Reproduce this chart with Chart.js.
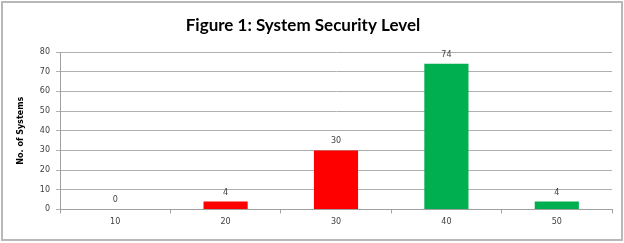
<!DOCTYPE html>
<html>
<head>
<meta charset="utf-8">
<script src="https://cdn.jsdelivr.net/npm/chart.js@4"></script>
<style>
html,body{margin:0;padding:0;background:#fff;}
#wrap{position:absolute;left:0;top:0;width:624px;height:243px;}
</style>
</head>
<body>
<div id="wrap"><canvas id="c" width="624" height="243"></canvas></div>
<script>
const categories = ["10", "20", "30", "40", "50"];
const systems = [0, 4, 30, 74, 4];
const barColors = ["#FF0000", "#FF0000", "#FF0000", "#00B050", "#00B050"];
const yTicks = [0, 10, 20, 30, 40, 50, 60, 70, 80];
const chartTitle = 'Figure 1: System Security Level';

const frame = {
  id: 'frame',
  beforeDraw(chart) {
    const ctx = chart.ctx;
    ctx.save();
    ctx.fillStyle = '#fff';
    ctx.fillRect(0, 0, chart.width, chart.height);
    ctx.strokeStyle = '#b8b8b8';
    ctx.lineWidth = 2;
    ctx.strokeRect(2, 2, chart.width - 4, chart.height - 5);
    ctx.font = 'bold 17px Lato, sans-serif';
    ctx.fillStyle = '#000';
    ctx.textAlign = 'center';
    ctx.textBaseline = 'alphabetic';
    ctx.fillText(chartTitle, 303, 31);
    ctx.restore();
  }
};

const valueLabels = {
  id: 'valueLabels',
  afterDatasetsDraw(chart) {
    const ctx = chart.ctx;
    const meta = chart.getDatasetMeta(0);
    ctx.save();
    ctx.font = '8px "DejaVu Sans", sans-serif';
    ctx.fillStyle = '#404040';
    ctx.textAlign = 'center';
    ctx.textBaseline = 'bottom';
    meta.data.forEach((bar, i) => {
      ctx.fillText(String(systems[i]), bar.x, bar.y - 5);
    });
    ctx.restore();
  }
};

new Chart(document.getElementById('c'), {
  type: 'bar',
  data: {
    labels: categories,
    datasets: [{
      data: systems,
      backgroundColor: barColors,
      borderWidth: 0,
      categoryPercentage: 1,
      barPercentage: 0.4
    }]
  },
  options: {
    responsive: false,
    animation: false,
    layout: { padding: { left: 16, right: 12, top: 52, bottom: 12 } },
    plugins: {
      legend: { display: false },
      tooltip: { enabled: false },
      title: { display: false }
    },
    scales: {
      x: {
        grid: { display: true, drawOnChartArea: false, offset: true, color: '#a0a0a0', tickLength: 4 },
        border: { color: '#a0a0a0', width: 1 },
        ticks: { font: { family: 'DejaVu Sans', size: 8 }, color: '#404040', padding: 4 }
      },
      y: {
        min: 0, max: 80,
        afterBuildTicks(axis) { axis.ticks = yTicks.map(v => ({ value: v })); },
        afterFit(axis) { axis.width = 44; },
        grid: { color: '#b0b0b0', tickLength: 4 },
        border: { color: '#a0a0a0', width: 1 },
        ticks: { font: { family: 'DejaVu Sans', size: 8 }, color: '#404040', padding: 6 },
        title: {
          display: true,
          text: 'No. of Systems',
          font: { family: 'DejaVu Sans', size: 8, weight: 'bold' },
          color: '#000',
          padding: { top: 0, bottom: 0 }
        }
      }
    }
  },
  plugins: [frame, valueLabels]
});
</script>
</body>
</html>
